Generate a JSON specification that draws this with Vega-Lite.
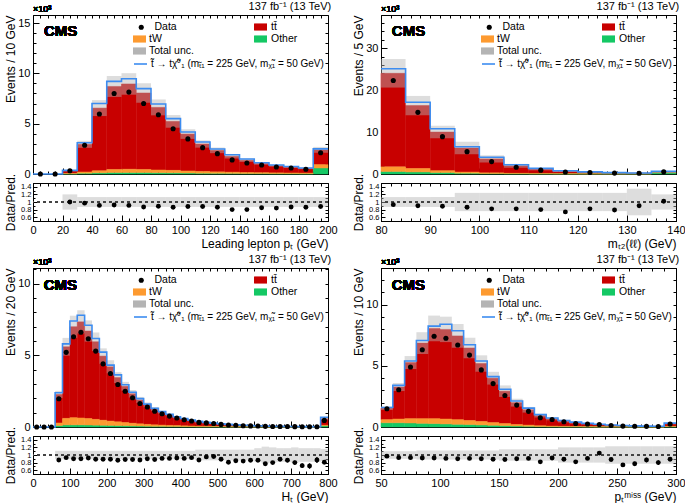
{
"$schema": "https://vega.github.io/schema/vega-lite/v6.json",
"padding": {"left": 3, "top": 0, "right": 6, "bottom": 0},
"config": {
  "font": "Liberation Sans",
  "view": {"stroke": "black", "strokeWidth": 1},
  "title": {"fontSize": 11, "fontWeight": "normal", "anchor": "end", "offset": -7, "color": "black"},
  "axis": {"grid": false, "tickSize": -6, "labelPadding": 9, "tickColor": "black", "domainColor": "black", "labelColor": "black", "titleColor": "black", "labelFontSize": 11, "titleFontSize": 12, "titleFontWeight": "normal", "labelFlush": false, "labelOverlap": false, "labelBound": false},
  "axisY": {"titleX": -23, "titleBaseline": "middle"},
  "axisX": {"titleAnchor": "end", "titlePadding": 3},
  "legend": {"labelFontSize": 10.5, "labelColor": "black", "padding": 0, "labelLimit": 0, "symbolOpacity": 1}
},
"datasets": {
  "pt": [
    {"lo":0,"hi":10,"c":5,"data":0},
    {"lo":10,"hi":20,"c":15,"data":0},
    {"lo":20,"hi":30,"c":25,"other":0.02,"tW":0.03,"ttbar":0.28,"data":0.33,"unc_lo":0.26,"unc_hi":0.40,"ratio":1.0,"band_lo":0.8,"band_hi":1.2},
    {"lo":30,"hi":40,"c":35,"other":0.08,"tW":0.12,"ttbar":2.75,"data":2.86,"unc_lo":2.60,"unc_hi":3.30,"ratio":0.97,"band_lo":0.87,"band_hi":1.13},
    {"lo":40,"hi":50,"c":45,"other":0.12,"tW":0.2,"ttbar":6.23,"data":5.96,"unc_lo":5.76,"unc_hi":7.34,"ratio":0.91,"band_lo":0.87,"band_hi":1.13},
    {"lo":50,"hi":60,"c":55,"other":0.15,"tW":0.3,"ttbar":8.25,"data":8.0,"unc_lo":7.66,"unc_hi":9.74,"ratio":0.92,"band_lo":0.87,"band_hi":1.13},
    {"lo":60,"hi":70,"c":65,"other":0.15,"tW":0.32,"ttbar":8.48,"data":8.14,"unc_lo":7.88,"unc_hi":10.02,"ratio":0.91,"band_lo":0.87,"band_hi":1.13},
    {"lo":70,"hi":80,"c":75,"other":0.15,"tW":0.3,"ttbar":7.6,"data":7.0,"unc_lo":7.08,"unc_hi":9.02,"ratio":0.87,"band_lo":0.87,"band_hi":1.13},
    {"lo":80,"hi":90,"c":85,"other":0.13,"tW":0.27,"ttbar":6.22,"data":5.89,"unc_lo":5.83,"unc_hi":7.41,"ratio":0.89,"band_lo":0.87,"band_hi":1.13},
    {"lo":90,"hi":100,"c":95,"other":0.12,"tW":0.24,"ttbar":4.87,"data":4.5,"unc_lo":4.60,"unc_hi":5.86,"ratio":0.86,"band_lo":0.87,"band_hi":1.13},
    {"lo":100,"hi":110,"c":105,"other":0.1,"tW":0.2,"ttbar":3.67,"data":3.49,"unc_lo":3.49,"unc_hi":4.45,"ratio":0.88,"band_lo":0.87,"band_hi":1.13},
    {"lo":110,"hi":120,"c":115,"other":0.08,"tW":0.17,"ttbar":2.73,"data":2.62,"unc_lo":2.62,"unc_hi":3.34,"ratio":0.88,"band_lo":0.87,"band_hi":1.13},
    {"lo":120,"hi":130,"c":125,"other":0.07,"tW":0.14,"ttbar":2.14,"data":2.02,"unc_lo":2.07,"unc_hi":2.63,"ratio":0.86,"band_lo":0.87,"band_hi":1.13},
    {"lo":130,"hi":140,"c":135,"other":0.06,"tW":0.12,"ttbar":1.57,"data":1.40,"unc_lo":1.54,"unc_hi":1.96,"ratio":0.80,"band_lo":0.87,"band_hi":1.13},
    {"lo":140,"hi":150,"c":145,"other":0.05,"tW":0.1,"ttbar":1.21,"data":1.09,"unc_lo":1.20,"unc_hi":1.52,"ratio":0.80,"band_lo":0.87,"band_hi":1.13},
    {"lo":150,"hi":160,"c":155,"other":0.05,"tW":0.08,"ttbar":0.92,"data":0.89,"unc_lo":0.92,"unc_hi":1.18,"ratio":0.85,"band_lo":0.87,"band_hi":1.13},
    {"lo":160,"hi":170,"c":165,"other":0.04,"tW":0.07,"ttbar":0.72,"data":0.70,"unc_lo":0.73,"unc_hi":0.93,"ratio":0.84,"band_lo":0.87,"band_hi":1.13},
    {"lo":170,"hi":180,"c":175,"other":0.04,"tW":0.06,"ttbar":0.58,"data":0.59,"unc_lo":0.60,"unc_hi":0.76,"ratio":0.87,"band_lo":0.87,"band_hi":1.13},
    {"lo":180,"hi":190,"c":185,"other":0.03,"tW":0.05,"ttbar":0.47,"data":0.47,"unc_lo":0.48,"unc_hi":0.62,"ratio":0.86,"band_lo":0.87,"band_hi":1.13},
    {"lo":190,"hi":200,"c":195,"other":0.6,"tW":0.33,"ttbar":1.47,"data":2.11,"unc_lo":2.11,"unc_hi":2.69,"ratio":0.88,"band_lo":0.87,"band_hi":1.13}
  ],
  "pt_sig": [
    {"x":0,"v":0},{"x":10,"v":0},{"x":20,"v":0.36},{"x":30,"v":3.1},{"x":40,"v":7.0},{"x":50,"v":9.2},{"x":60,"v":9.47},{"x":70,"v":8.48},{"x":80,"v":6.95},{"x":90,"v":5.5},{"x":100,"v":4.17},{"x":110,"v":3.18},{"x":120,"v":2.48},{"x":130,"v":1.92},{"x":140,"v":1.49},{"x":150,"v":1.12},{"x":160,"v":0.9},{"x":170,"v":0.74},{"x":180,"v":0.6},{"x":190,"v":2.5},{"x":200,"v":2.5}
  ],
  "mt2": [
    {"lo":80,"hi":85,"c":82.5,"other":0.6,"tW":1.1,"ttbar":22.3,"data":22.3,"unc_lo":20.6,"unc_hi":27.4,"ratio":0.93,"band_lo":0.87,"band_hi":1.13},
    {"lo":85,"hi":90,"c":87.5,"other":0.5,"tW":0.8,"ttbar":15.0,"data":14.7,"unc_lo":14.0,"unc_hi":18.6,"ratio":0.90,"band_lo":0.87,"band_hi":1.13},
    {"lo":90,"hi":95,"c":92.5,"other":0.35,"tW":0.45,"ttbar":9.2,"data":8.9,"unc_lo":8.5,"unc_hi":11.5,"ratio":0.89,"band_lo":0.87,"band_hi":1.13},
    {"lo":95,"hi":100,"c":97.5,"other":0.2,"tW":0.25,"ttbar":5.75,"data":5.33,"unc_lo":4.71,"unc_hi":7.69,"ratio":0.86,"band_lo":0.76,"band_hi":1.24},
    {"lo":100,"hi":105,"c":102.5,"other":0.12,"tW":0.15,"ttbar":3.33,"data":2.95,"unc_lo":2.74,"unc_hi":4.46,"ratio":0.82,"band_lo":0.76,"band_hi":1.24},
    {"lo":105,"hi":110,"c":107.5,"other":0.08,"tW":0.08,"ttbar":1.79,"data":1.6,"unc_lo":1.48,"unc_hi":2.42,"ratio":0.82,"band_lo":0.76,"band_hi":1.24},
    {"lo":110,"hi":115,"c":112.5,"other":0.05,"tW":0.05,"ttbar":1.05,"data":0.92,"unc_lo":0.87,"unc_hi":1.43,"ratio":0.80,"band_lo":0.76,"band_hi":1.24},
    {"lo":115,"hi":120,"c":117.5,"other":0.04,"tW":0.03,"ttbar":0.55,"data":0.46,"unc_lo":0.47,"unc_hi":0.77,"ratio":0.74,"band_lo":0.76,"band_hi":1.24},
    {"lo":120,"hi":125,"c":122.5,"other":0.03,"tW":0.02,"ttbar":0.37,"data":0.34,"unc_lo":0.32,"unc_hi":0.52,"ratio":0.82,"band_lo":0.76,"band_hi":1.24},
    {"lo":125,"hi":130,"c":127.5,"other":0.03,"tW":0.01,"ttbar":0.24,"data":0.22,"unc_lo":0.21,"unc_hi":0.35,"ratio":0.79,"band_lo":0.76,"band_hi":1.24},
    {"lo":130,"hi":135,"c":132.5,"other":0.04,"tW":0.01,"ttbar":0.15,"data":0.18,"unc_lo":0.13,"unc_hi":0.27,"ratio":0.90,"band_lo":0.65,"band_hi":1.35},
    {"lo":135,"hi":140,"c":137.5,"other":0.3,"tW":0.03,"ttbar":0.17,"data":0.51,"unc_lo":0.40,"unc_hi":0.60,"ratio":1.02,"band_lo":0.8,"band_hi":1.2}
  ],
  "mt2_sig": [
    {"x":80,"v":25.1},{"x":85,"v":17.1},{"x":90,"v":10.8},{"x":95,"v":6.5},{"x":100,"v":4.0},{"x":105,"v":2.2},{"x":110,"v":1.35},{"x":115,"v":0.78},{"x":120,"v":0.5},{"x":125,"v":0.33},{"x":130,"v":0.25},{"x":135,"v":0.62},{"x":140,"v":0.62}
  ],
  "ht": [
    {"lo":0,"hi":20,"c":10,"data":0},
    {"lo":20,"hi":40,"c":30,"data":0},
    {"lo":40,"hi":60,"c":50,"data":0},
    {"lo":60,"hi":80,"c":70,"other":0.1,"tW":0.18,"ttbar":1.99,"data":1.97,"unc_lo":2.02,"unc_hi":2.52,"ratio":0.87,"band_lo":0.89,"band_hi":1.11},
    {"lo":80,"hi":100,"c":90,"other":0.15,"tW":0.45,"ttbar":5.0,"data":5.21,"unc_lo":4.98,"unc_hi":6.22,"ratio":0.93,"band_lo":0.89,"band_hi":1.11},
    {"lo":100,"hi":120,"c":110,"other":0.15,"tW":0.5,"ttbar":6.35,"data":6.3,"unc_lo":6.23,"unc_hi":7.77,"ratio":0.90,"band_lo":0.89,"band_hi":1.11},
    {"lo":120,"hi":140,"c":130,"other":0.15,"tW":0.48,"ttbar":6.71,"data":6.61,"unc_lo":6.53,"unc_hi":8.15,"ratio":0.90,"band_lo":0.89,"band_hi":1.11},
    {"lo":140,"hi":160,"c":150,"other":0.14,"tW":0.45,"ttbar":6.11,"data":6.16,"unc_lo":5.96,"unc_hi":7.44,"ratio":0.92,"band_lo":0.89,"band_hi":1.11},
    {"lo":160,"hi":180,"c":170,"other":0.13,"tW":0.4,"ttbar":5.42,"data":5.3,"unc_lo":5.30,"unc_hi":6.60,"ratio":0.89,"band_lo":0.89,"band_hi":1.11},
    {"lo":180,"hi":200,"c":190,"other":0.12,"tW":0.35,"ttbar":4.48,"data":4.41,"unc_lo":4.41,"unc_hi":5.49,"ratio":0.89,"band_lo":0.89,"band_hi":1.11},
    {"lo":200,"hi":220,"c":210,"other":0.11,"tW":0.3,"ttbar":3.79,"data":3.74,"unc_lo":3.74,"unc_hi":4.66,"ratio":0.89,"band_lo":0.89,"band_hi":1.11},
    {"lo":220,"hi":240,"c":230,"other":0.1,"tW":0.26,"ttbar":3.09,"data":2.97,"unc_lo":3.07,"unc_hi":3.83,"ratio":0.86,"band_lo":0.89,"band_hi":1.11},
    {"lo":240,"hi":260,"c":250,"other":0.09,"tW":0.22,"ttbar":2.53,"data":2.5,"unc_lo":2.53,"unc_hi":3.15,"ratio":0.88,"band_lo":0.89,"band_hi":1.11},
    {"lo":260,"hi":280,"c":270,"other":0.08,"tW":0.18,"ttbar":2.06,"data":2.04,"unc_lo":2.06,"unc_hi":2.58,"ratio":0.88,"band_lo":0.89,"band_hi":1.11},
    {"lo":280,"hi":300,"c":290,"other":0.07,"tW":0.15,"ttbar":1.67,"data":1.64,"unc_lo":1.68,"unc_hi":2.10,"ratio":0.87,"band_lo":0.89,"band_hi":1.11},
    {"lo":300,"hi":320,"c":310,"other":0.06,"tW":0.12,"ttbar":1.37,"data":1.40,"unc_lo":1.38,"unc_hi":1.72,"ratio":0.90,"band_lo":0.89,"band_hi":1.11},
    {"lo":320,"hi":340,"c":330,"other":0.05,"tW":0.1,"ttbar":1.1,"data":1.10,"unc_lo":1.11,"unc_hi":1.39,"ratio":0.88,"band_lo":0.89,"band_hi":1.11},
    {"lo":340,"hi":360,"c":350,"other":0.05,"tW":0.08,"ttbar":0.89,"data":0.93,"unc_lo":0.91,"unc_hi":1.13,"ratio":0.91,"band_lo":0.89,"band_hi":1.11},
    {"lo":360,"hi":380,"c":370,"other":0.04,"tW":0.07,"ttbar":0.73,"data":0.76,"unc_lo":0.75,"unc_hi":0.93,"ratio":0.91,"band_lo":0.89,"band_hi":1.11},
    {"lo":380,"hi":400,"c":390,"other":0.04,"tW":0.06,"ttbar":0.58,"data":0.63,"unc_lo":0.61,"unc_hi":0.75,"ratio":0.92,"band_lo":0.89,"band_hi":1.11},
    {"lo":400,"hi":420,"c":410,"other":0.03,"tW":0.05,"ttbar":0.48,"data":0.51,"unc_lo":0.50,"unc_hi":0.62,"ratio":0.91,"band_lo":0.89,"band_hi":1.11},
    {"lo":420,"hi":440,"c":430,"other":0.03,"tW":0.04,"ttbar":0.38,"data":0.42,"unc_lo":0.40,"unc_hi":0.50,"ratio":0.93,"band_lo":0.89,"band_hi":1.11},
    {"lo":440,"hi":460,"c":450,"other":0.02,"tW":0.03,"ttbar":0.32,"data":0.32,"unc_lo":0.32,"unc_hi":0.42,"ratio":0.87,"band_lo":0.86,"band_hi":1.14},
    {"lo":460,"hi":480,"c":470,"other":0.02,"tW":0.03,"ttbar":0.25,"data":0.285,"unc_lo":0.26,"unc_hi":0.34,"ratio":0.95,"band_lo":0.86,"band_hi":1.14},
    {"lo":480,"hi":500,"c":490,"other":0.02,"tW":0.02,"ttbar":0.21,"data":0.24,"unc_lo":0.215,"unc_hi":0.285,"ratio":0.96,"band_lo":0.86,"band_hi":1.14},
    {"lo":500,"hi":520,"c":510,"other":0.015,"tW":0.02,"ttbar":0.165,"data":0.18,"unc_lo":0.172,"unc_hi":0.228,"ratio":0.89,"ratio_err":0.02,"band_lo":0.86,"band_hi":1.14},
    {"lo":520,"hi":540,"c":530,"other":0.01,"tW":0.015,"ttbar":0.145,"data":0.138,"unc_lo":0.146,"unc_hi":0.194,"ratio":0.81,"ratio_err":0.025,"band_lo":0.86,"band_hi":1.14},
    {"lo":540,"hi":560,"c":550,"other":0.01,"tW":0.01,"ttbar":0.12,"data":0.119,"unc_lo":0.12,"unc_hi":0.16,"ratio":0.85,"ratio_err":0.03,"band_lo":0.86,"band_hi":1.14},
    {"lo":560,"hi":580,"c":570,"other":0.01,"tW":0.01,"ttbar":0.09,"data":0.092,"unc_lo":0.095,"unc_hi":0.125,"ratio":0.84,"ratio_err":0.03,"band_lo":0.86,"band_hi":1.14},
    {"lo":580,"hi":600,"c":590,"other":0.008,"tW":0.008,"ttbar":0.074,"data":0.077,"unc_lo":0.077,"unc_hi":0.103,"ratio":0.86,"ratio_err":0.035,"band_lo":0.86,"band_hi":1.14},
    {"lo":600,"hi":620,"c":610,"other":0.006,"tW":0.006,"ttbar":0.063,"data":0.065,"unc_lo":0.062,"unc_hi":0.089,"ratio":0.86,"ratio_err":0.035,"band_lo":0.82,"band_hi":1.18},
    {"lo":620,"hi":640,"c":630,"other":0.005,"tW":0.005,"ttbar":0.05,"data":0.046,"unc_lo":0.047,"unc_hi":0.073,"ratio":0.77,"ratio_err":0.045,"band_lo":0.78,"band_hi":1.22},
    {"lo":640,"hi":660,"c":650,"other":0.004,"tW":0.004,"ttbar":0.042,"data":0.04,"unc_lo":0.04,"unc_hi":0.06,"ratio":0.80,"ratio_err":0.045,"band_lo":0.8,"band_hi":1.2},
    {"lo":660,"hi":680,"c":670,"other":0.004,"tW":0.003,"ttbar":0.035,"data":0.037,"unc_lo":0.034,"unc_hi":0.05,"ratio":0.89,"ratio_err":0.05,"band_lo":0.82,"band_hi":1.18},
    {"lo":680,"hi":700,"c":690,"other":0.003,"tW":0.003,"ttbar":0.029,"data":0.03,"unc_lo":0.029,"unc_hi":0.041,"ratio":0.86,"ratio_err":0.05,"band_lo":0.82,"band_hi":1.18},
    {"lo":700,"hi":720,"c":710,"other":0.003,"tW":0.002,"ttbar":0.025,"data":0.024,"unc_lo":0.024,"unc_hi":0.036,"ratio":0.80,"ratio_err":0.055,"band_lo":0.8,"band_hi":1.2},
    {"lo":720,"hi":740,"c":730,"other":0.002,"tW":0.002,"ttbar":0.021,"data":0.018,"unc_lo":0.02,"unc_hi":0.03,"ratio":0.72,"ratio_err":0.06,"band_lo":0.82,"band_hi":1.18},
    {"lo":740,"hi":760,"c":750,"other":0.002,"tW":0.002,"ttbar":0.016,"data":0.014,"unc_lo":0.016,"unc_hi":0.024,"ratio":0.71,"ratio_err":0.07,"band_lo":0.82,"band_hi":1.18},
    {"lo":760,"hi":780,"c":770,"other":0.002,"tW":0.001,"ttbar":0.015,"data":0.016,"unc_lo":0.015,"unc_hi":0.021,"ratio":0.87,"ratio_err":0.08,"band_lo":0.82,"band_hi":1.18},
    {"lo":780,"hi":800,"c":790,"other":0.08,"tW":0.04,"ttbar":0.45,"data":0.46,"unc_lo":0.48,"unc_hi":0.66,"ratio":0.81,"ratio_err":0.035,"band_lo":0.84,"band_hi":1.16}
  ],
  "ht_sig": [
    {"x":0,"v":0},{"x":20,"v":0},{"x":40,"v":0},{"x":60,"v":2.39},{"x":80,"v":5.8},{"x":100,"v":7.4},{"x":120,"v":7.8},{"x":140,"v":7.1},{"x":160,"v":6.18},{"x":180,"v":5.23},{"x":200,"v":4.32},{"x":220,"v":3.64},{"x":240,"v":2.95},{"x":260,"v":2.43},{"x":280,"v":1.98},{"x":300,"v":1.6},{"x":320,"v":1.3},{"x":340,"v":1.07},{"x":360,"v":0.89},{"x":380,"v":0.72},{"x":400,"v":0.59},{"x":420,"v":0.48},{"x":440,"v":0.39},{"x":460,"v":0.32},{"x":480,"v":0.27},{"x":500,"v":0.22},{"x":520,"v":0.18},{"x":540,"v":0.15},{"x":560,"v":0.12},{"x":580,"v":0.1},{"x":600,"v":0.082},{"x":620,"v":0.066},{"x":640,"v":0.055},{"x":660,"v":0.046},{"x":680,"v":0.038},{"x":700,"v":0.033},{"x":720,"v":0.028},{"x":740,"v":0.023},{"x":760,"v":0.02},{"x":780,"v":0.68},{"x":800,"v":0.68}
  ],
  "met": [
    {"lo":50,"hi":60,"c":55,"other":0.35,"tW":0.25,"ttbar":0.94,"data":1.49,"unc_lo":1.39,"unc_hi":1.69,"ratio":0.97,"band_lo":0.9,"band_hi":1.1},
    {"lo":60,"hi":70,"c":65,"other":0.35,"tW":0.3,"ttbar":2.62,"data":3.04,"unc_lo":2.94,"unc_hi":3.60,"ratio":0.93,"band_lo":0.9,"band_hi":1.1},
    {"lo":70,"hi":80,"c":75,"other":0.33,"tW":0.35,"ttbar":4.59,"data":4.9,"unc_lo":4.74,"unc_hi":5.80,"ratio":0.93,"band_lo":0.9,"band_hi":1.1},
    {"lo":80,"hi":90,"c":85,"other":0.3,"tW":0.38,"ttbar":6.18,"data":6.31,"unc_lo":5.97,"unc_hi":7.75,"ratio":0.92,"band_lo":0.88,"band_hi":1.12},
    {"lo":90,"hi":100,"c":95,"other":0.28,"tW":0.4,"ttbar":7.38,"data":7.42,"unc_lo":7.01,"unc_hi":9.11,"ratio":0.92,"band_lo":0.88,"band_hi":1.12},
    {"lo":100,"hi":110,"c":105,"other":0.25,"tW":0.4,"ttbar":7.33,"data":7.26,"unc_lo":6.94,"unc_hi":9.02,"ratio":0.91,"band_lo":0.88,"band_hi":1.12},
    {"lo":110,"hi":120,"c":115,"other":0.22,"tW":0.38,"ttbar":6.85,"data":6.71,"unc_lo":6.48,"unc_hi":8.42,"ratio":0.90,"band_lo":0.88,"band_hi":1.12},
    {"lo":120,"hi":130,"c":125,"other":0.2,"tW":0.33,"ttbar":5.93,"data":5.88,"unc_lo":5.62,"unc_hi":7.30,"ratio":0.91,"band_lo":0.88,"band_hi":1.12},
    {"lo":130,"hi":140,"c":135,"other":0.17,"tW":0.28,"ttbar":4.74,"data":4.67,"unc_lo":4.52,"unc_hi":5.86,"ratio":0.90,"band_lo":0.88,"band_hi":1.12},
    {"lo":140,"hi":150,"c":145,"other":0.14,"tW":0.22,"ttbar":3.63,"data":3.55,"unc_lo":3.47,"unc_hi":4.51,"ratio":0.89,"band_lo":0.88,"band_hi":1.12},
    {"lo":150,"hi":160,"c":155,"other":0.11,"tW":0.17,"ttbar":2.65,"data":2.58,"unc_lo":2.46,"unc_hi":3.40,"ratio":0.88,"band_lo":0.85,"band_hi":1.15},
    {"lo":160,"hi":170,"c":165,"other":0.08,"tW":0.12,"ttbar":1.79,"data":1.79,"unc_lo":1.67,"unc_hi":2.31,"ratio":0.90,"band_lo":0.85,"band_hi":1.15},
    {"lo":170,"hi":180,"c":175,"other":0.06,"tW":0.09,"ttbar":1.26,"data":1.28,"unc_lo":1.18,"unc_hi":1.64,"ratio":0.91,"band_lo":0.85,"band_hi":1.15},
    {"lo":180,"hi":190,"c":185,"other":0.04,"tW":0.06,"ttbar":0.83,"data":0.76,"unc_lo":0.78,"unc_hi":1.08,"ratio":0.82,"band_lo":0.85,"band_hi":1.15},
    {"lo":190,"hi":200,"c":195,"other":0.03,"tW":0.04,"ttbar":0.59,"data":0.61,"unc_lo":0.55,"unc_hi":0.77,"ratio":0.92,"band_lo":0.85,"band_hi":1.15},
    {"lo":200,"hi":210,"c":205,"other":0.02,"tW":0.03,"ttbar":0.43,"data":0.43,"unc_lo":0.37,"unc_hi":0.59,"ratio":0.89,"ratio_err":0.025,"band_lo":0.8,"band_hi":1.2},
    {"lo":210,"hi":220,"c":215,"other":0.02,"tW":0.02,"ttbar":0.31,"data":0.29,"unc_lo":0.27,"unc_hi":0.43,"ratio":0.82,"ratio_err":0.03,"band_lo":0.8,"band_hi":1.2},
    {"lo":220,"hi":230,"c":225,"other":0.015,"tW":0.015,"ttbar":0.24,"data":0.25,"unc_lo":0.21,"unc_hi":0.33,"ratio":0.91,"ratio_err":0.035,"band_lo":0.8,"band_hi":1.2},
    {"lo":230,"hi":240,"c":235,"other":0.01,"tW":0.01,"ttbar":0.17,"data":0.20,"unc_lo":0.15,"unc_hi":0.23,"ratio":1.05,"ratio_err":0.04,"band_lo":0.8,"band_hi":1.2},
    {"lo":240,"hi":250,"c":245,"other":0.01,"tW":0.01,"ttbar":0.12,"data":0.123,"unc_lo":0.11,"unc_hi":0.17,"ratio":0.88,"ratio_err":0.045,"band_lo":0.77,"band_hi":1.23},
    {"lo":250,"hi":260,"c":255,"other":0.008,"tW":0.006,"ttbar":0.086,"data":0.074,"unc_lo":0.078,"unc_hi":0.122,"ratio":0.74,"ratio_err":0.05,"band_lo":0.77,"band_hi":1.23},
    {"lo":260,"hi":270,"c":265,"other":0.006,"tW":0.005,"ttbar":0.069,"data":0.062,"unc_lo":0.062,"unc_hi":0.098,"ratio":0.77,"ratio_err":0.055,"band_lo":0.77,"band_hi":1.23},
    {"lo":270,"hi":280,"c":275,"other":0.005,"tW":0.004,"ttbar":0.051,"data":0.052,"unc_lo":0.047,"unc_hi":0.073,"ratio":0.87,"ratio_err":0.06,"band_lo":0.77,"band_hi":1.23},
    {"lo":280,"hi":290,"c":285,"other":0.004,"tW":0.003,"ttbar":0.043,"data":0.04,"unc_lo":0.039,"unc_hi":0.061,"ratio":0.80,"ratio_err":0.065,"band_lo":0.77,"band_hi":1.23},
    {"lo":290,"hi":300,"c":295,"other":0.03,"tW":0.02,"ttbar":0.22,"data":0.24,"unc_lo":0.21,"unc_hi":0.33,"ratio":0.89,"ratio_err":0.03,"band_lo":0.77,"band_hi":1.23}
  ],
  "met_sig": [
    {"x":50,"v":1.6},{"x":60,"v":3.4},{"x":70,"v":5.4},{"x":80,"v":7.07},{"x":90,"v":8.25},{"x":100,"v":8.4},{"x":110,"v":7.87},{"x":120,"v":6.73},{"x":130,"v":5.4},{"x":140,"v":4.12},{"x":150,"v":3.09},{"x":160,"v":2.13},{"x":170,"v":1.54},{"x":180,"v":1.01},{"x":190,"v":0.74},{"x":200,"v":0.53},{"x":210,"v":0.4},{"x":220,"v":0.3},{"x":230,"v":0.22},{"x":240,"v":0.16},{"x":250,"v":0.12},{"x":260,"v":0.09},{"x":270,"v":0.07},{"x":280,"v":0.06},{"x":290,"v":0.32},{"x":300,"v":0.32}
  ],
  "empty": []
},
"columns": 2,
"spacing": {"row": 9, "column": 53},
"bounds": "flush",
"resolve": {"scale": {"color":"independent","fill":"independent","stroke":"independent","shape":"independent"}, "legend": {"color":"independent","fill":"independent","stroke":"independent","shape":"independent"}},
"concat": [
     {
      "width": 295, "height": 159,
      "title": {"text": "137 fb⁻¹ (13 TeV)"},
      "data": {"name": "pt"},
      "resolve": {"axis": {"x": "independent", "y": "independent"}},
      "layer": [
       {
        "transform": [{"filter": "datum.ttbar != null"}, {"fold": ["other","tW","ttbar"], "as": ["proc","n"]}, {"stack": "n", "groupby": ["lo"], "sort": [{"field": "proc", "order": "ascending"}], "as": ["s0","s1"]}],
        "layer": [
         {"transform": [{"filter": "datum.proc === 'ttbar'"}], "mark": {"type": "rect", "stroke": "#c80000", "strokeWidth": 0.5},
          "encoding": {
           "x": {"field": "lo", "type": "quantitative", "scale": {"domain": [0,200], "nice": false, "zero": false}, "axis": {"orient": "bottom", "values": [0,20,40,60,80,100,120,140,160,180,200], "tickCount": 1000, "labels": false, "title": null}},
           "x2": {"field": "hi"},
           "y": {"field": "s1", "type": "quantitative", "scale": {"domain": [0,15.8], "nice": false, "zero": false}, "axis": {"orient": "left", "values": [0,5,10,15], "tickCount": 1000, "format": "d", "title": "Events / 10 GeV", "titleAnchor": "end"}},
           "y2": {"field": "s0"},
           "fill": {"datum": "tt̄", "type": "nominal", "scale": {"domain": ["tt̄","Other"], "range": ["#c80000","#14c864"]}, "legend": {"title": null, "orient": "none", "legendX": 221, "legendY": 5.5, "symbolType": "M-1,-0.55H1V0.55H-1Z", "symbolSize": 169, "symbolStrokeWidth": 0, "rowPadding": -1, "labelOffset": 4}}
          }},
         {"transform": [{"filter": "datum.proc === 'other'"}], "mark": {"type": "rect", "stroke": "#14c864", "strokeWidth": 0.5},
          "encoding": {"x": {"field": "lo", "type": "quantitative"}, "x2": {"field": "hi"}, "y": {"field": "s1", "type": "quantitative"}, "y2": {"field": "s0"}, "fill": {"datum": "Other", "type": "nominal"}}},
         {"transform": [{"filter": "datum.proc === 'tW'"}], "mark": {"type": "rect", "stroke": "#fd9a30", "strokeWidth": 0.5},
          "encoding": {"x": {"field": "lo", "type": "quantitative"}, "x2": {"field": "hi"}, "y": {"field": "s1", "type": "quantitative"}, "y2": {"field": "s0"},
           "color": {"datum": "tW", "type": "nominal", "scale": {"domain": ["tW","Total unc."], "range": ["#fd9a30","#b4b4b4"]}, "legend": {"title": null, "orient": "none", "legendX": 100, "legendY": 17.5, "symbolType": "M-1,-0.55H1V0.55H-1Z", "symbolSize": 169, "symbolStrokeWidth": 0, "rowPadding": -1, "labelOffset": 3}}}}
        ]
       },
       {"mark": {"type": "rect", "opacity": 0.45},
        "encoding": {"x": {"field": "lo", "type": "quantitative", "axis": null}, "x2": {"field": "hi"}, "y": {"field": "unc_lo", "type": "quantitative", "axis": null}, "y2": {"field": "unc_hi"}, "color": {"datum": "Total unc.", "type": "nominal"}}},
       {"data": {"name": "pt_sig"}, "mark": {"type": "line", "interpolate": "step-after", "strokeWidth": 1.6},
        "encoding": {"x": {"field": "x", "type": "quantitative", "axis": null}, "y": {"field": "v", "type": "quantitative", "axis": null},
         "stroke": {"datum": "t̃ → tχ̃⁰₁ (mₜ̃₁ = 225 GeV, mᵪ̃₁ = 50 GeV)", "type": "nominal", "scale": {"range": ["#3c8cf0"]}, "legend": {"title": null, "orient": "none", "legendX": 100, "legendY": 41.5, "symbolType": "stroke", "symbolSize": 169, "symbolStrokeWidth": 1.6, "labelOffset": 3, "labelFontSize": 10}}}},
       {"mark": {"type": "point", "filled": true, "size": 26, "color": "black", "opacity": 1},
        "encoding": {"x": {"field": "c", "type": "quantitative", "axis": null}, "y": {"field": "data", "type": "quantitative", "axis": null},
         "shape": {"datum": "Data", "type": "nominal", "scale": {"domain": ["Data"], "range": ["circle"]}, "legend": {"title": null, "orient": "none", "legendX": 103, "legendY": 7, "symbolFillColor": "black", "symbolStrokeColor": "black", "symbolSize": 26, "labelOffset": 8}}}},
       {"mark": {"type": "text", "text": "CMS", "fontSize": 15, "fontWeight": "bold", "align": "left", "baseline": "alphabetic"},
        "encoding": {"x": {"datum": 7.46, "type": "quantitative", "axis": {"orient": "bottom", "values": [0,5,10,15,20,25,30,35,40,45,50,55,60,65,70,75,80,85,90,95,100,105,110,115,120,125,130,135,140,145,150,155,160,165,170,175,180,185,190,195,200], "tickCount": 1000, "labels": false, "title": null, "domain": false, "tickSize": -3}},
                     "y": {"datum": 13.71, "type": "quantitative", "axis": {"orient": "left", "values": [0,1,2,3,4,5,6,7,8,9,10,11,12,13,14,15], "tickCount": 1000, "labels": false, "title": null, "domain": false, "tickSize": -3}}}},
       {"mark": {"type": "text", "text": "×10³", "fontSize": 9, "align": "left", "baseline": "bottom", "dy": -1},
        "encoding": {"x": {"datum": 0, "type": "quantitative", "axis": {"orient": "top", "values": [0,5,10,15,20,25,30,35,40,45,50,55,60,65,70,75,80,85,90,95,100,105,110,115,120,125,130,135,140,145,150,155,160,165,170,175,180,185,190,195,200], "tickCount": 1000, "labels": false, "title": null, "domain": false, "tickSize": -3}},
                     "y": {"datum": 15.8, "type": "quantitative", "axis": {"orient": "right", "values": [0,1,2,3,4,5,6,7,8,9,10,11,12,13,14,15], "tickCount": 1000, "labels": false, "title": null, "domain": false, "tickSize": -3}}}}
      ]
     },
     {
      "width": 295, "height": 159,
      "title": {"text": "137 fb⁻¹ (13 TeV)"},
      "data": {"name": "mt2"},
      "resolve": {"axis": {"x": "independent", "y": "independent"}},
      "layer": [
       {
        "transform": [{"filter": "datum.ttbar != null"}, {"fold": ["other","tW","ttbar"], "as": ["proc","n"]}, {"stack": "n", "groupby": ["lo"], "sort": [{"field": "proc", "order": "ascending"}], "as": ["s0","s1"]}],
        "layer": [
         {"transform": [{"filter": "datum.proc === 'ttbar'"}], "mark": {"type": "rect", "stroke": "#c80000", "strokeWidth": 0.5},
          "encoding": {
           "x": {"field": "lo", "type": "quantitative", "scale": {"domain": [80,140], "nice": false, "zero": false}, "axis": {"orient": "bottom", "values": [80,90,100,110,120,130,140], "tickCount": 1000, "labels": false, "title": null}},
           "x2": {"field": "hi"},
           "y": {"field": "s1", "type": "quantitative", "scale": {"domain": [0,37.9], "nice": false, "zero": false}, "axis": {"orient": "left", "values": [0,10,20,30], "tickCount": 1000, "format": "d", "title": "Events / 5 GeV", "titleAnchor": "end"}},
           "y2": {"field": "s0"},
           "fill": {"datum": "tt̄", "type": "nominal", "scale": {"domain": ["tt̄","Other"], "range": ["#c80000","#14c864"]}, "legend": {"title": null, "orient": "none", "legendX": 221, "legendY": 5.5, "symbolType": "M-1,-0.55H1V0.55H-1Z", "symbolSize": 169, "symbolStrokeWidth": 0, "rowPadding": -1, "labelOffset": 4}}
          }},
         {"transform": [{"filter": "datum.proc === 'other'"}], "mark": {"type": "rect", "stroke": "#14c864", "strokeWidth": 0.5},
          "encoding": {"x": {"field": "lo", "type": "quantitative"}, "x2": {"field": "hi"}, "y": {"field": "s1", "type": "quantitative"}, "y2": {"field": "s0"}, "fill": {"datum": "Other", "type": "nominal"}}},
         {"transform": [{"filter": "datum.proc === 'tW'"}], "mark": {"type": "rect", "stroke": "#fd9a30", "strokeWidth": 0.5},
          "encoding": {"x": {"field": "lo", "type": "quantitative"}, "x2": {"field": "hi"}, "y": {"field": "s1", "type": "quantitative"}, "y2": {"field": "s0"},
           "color": {"datum": "tW", "type": "nominal", "scale": {"domain": ["tW","Total unc."], "range": ["#fd9a30","#b4b4b4"]}, "legend": {"title": null, "orient": "none", "legendX": 100, "legendY": 17.5, "symbolType": "M-1,-0.55H1V0.55H-1Z", "symbolSize": 169, "symbolStrokeWidth": 0, "rowPadding": -1, "labelOffset": 3}}}}
        ]
       },
       {"mark": {"type": "rect", "opacity": 0.45},
        "encoding": {"x": {"field": "lo", "type": "quantitative", "axis": null}, "x2": {"field": "hi"}, "y": {"field": "unc_lo", "type": "quantitative", "axis": null}, "y2": {"field": "unc_hi"}, "color": {"datum": "Total unc.", "type": "nominal"}}},
       {"data": {"name": "mt2_sig"}, "mark": {"type": "line", "interpolate": "step-after", "strokeWidth": 1.6},
        "encoding": {"x": {"field": "x", "type": "quantitative", "axis": null}, "y": {"field": "v", "type": "quantitative", "axis": null},
         "stroke": {"datum": "t̃ → tχ̃⁰₁ (mₜ̃₁ = 225 GeV, mᵪ̃₁ = 50 GeV)", "type": "nominal", "scale": {"range": ["#3c8cf0"]}, "legend": {"title": null, "orient": "none", "legendX": 100, "legendY": 41.5, "symbolType": "stroke", "symbolSize": 169, "symbolStrokeWidth": 1.6, "labelOffset": 3, "labelFontSize": 10}}}},
       {"mark": {"type": "point", "filled": true, "size": 26, "color": "black", "opacity": 1},
        "encoding": {"x": {"field": "c", "type": "quantitative", "axis": null}, "y": {"field": "data", "type": "quantitative", "axis": null},
         "shape": {"datum": "Data", "type": "nominal", "scale": {"domain": ["Data"], "range": ["circle"]}, "legend": {"title": null, "orient": "none", "legendX": 103, "legendY": 7, "symbolFillColor": "black", "symbolStrokeColor": "black", "symbolSize": 26, "labelOffset": 8}}}},
       {"mark": {"type": "text", "text": "CMS", "fontSize": 15, "fontWeight": "bold", "align": "left", "baseline": "alphabetic"},
        "encoding": {"x": {"datum": 82.2, "type": "quantitative", "axis": {"orient": "bottom", "values": [80,82,84,86,88,90,92,94,96,98,100,102,104,106,108,110,112,114,116,118,120,122,124,126,128,130,132,134,136,138,140], "tickCount": 1000, "labels": false, "title": null, "domain": false, "tickSize": -3}},
                     "y": {"datum": 32.9, "type": "quantitative", "axis": {"orient": "left", "values": [0,2,4,6,8,10,12,14,16,18,20,22,24,26,28,30,32,34,36], "tickCount": 1000, "labels": false, "title": null, "domain": false, "tickSize": -3}}}},
       {"mark": {"type": "text", "text": "×10³", "fontSize": 9, "align": "left", "baseline": "bottom", "dy": -1},
        "encoding": {"x": {"datum": 80, "type": "quantitative", "axis": {"orient": "top", "values": [80,82,84,86,88,90,92,94,96,98,100,102,104,106,108,110,112,114,116,118,120,122,124,126,128,130,132,134,136,138,140], "tickCount": 1000, "labels": false, "title": null, "domain": false, "tickSize": -3}},
                     "y": {"datum": 37.9, "type": "quantitative", "axis": {"orient": "right", "values": [0,2,4,6,8,10,12,14,16,18,20,22,24,26,28,30,32,34,36], "tickCount": 1000, "labels": false, "title": null, "domain": false, "tickSize": -3}}}}
      ]
     },
     {
      "width": 295, "height": 38,
      "data": {"name": "pt"},
      "transform": [{"filter": "datum.ratio != null"}],
      "resolve": {"axis": {"x": "independent", "y": "independent"}},
      "layer": [
       {"mark": {"type": "rect", "fill": "#b4b4b4", "opacity": 0.45},
        "encoding": {"x": {"field": "lo", "type": "quantitative", "scale": {"domain": [0,200], "nice": false, "zero": false}, "axis": {"orient": "bottom", "values": [0,20,40,60,80,100,120,140,160,180,200], "tickCount": 1000, "format": "d", "title": "Leading lepton pₜ (GeV)"}},
         "x2": {"field": "hi"},
         "y": {"field": "band_lo", "type": "quantitative", "scale": {"domain": [0.5,1.5], "nice": false, "zero": false}, "axis": {"orient": "left", "values": [0.6,0.8,1,1.2,1.4], "tickCount": 1000, "format": "~g", "title": "Data/Pred.", "labelFontSize": 7.5, "tickSize": -4, "labelPadding": 6}},
         "y2": {"field": "band_hi"}}},
       {"mark": {"type": "rule", "strokeDash": [3,3], "color": "#444444", "strokeWidth": 0.8}, "encoding": {"y": {"datum": 1, "type": "quantitative", "axis": {"orient": "right", "values": [0.5,0.6,0.7,0.8,0.9,1,1.1,1.2,1.3,1.4,1.5], "tickCount": 1000, "labels": false, "title": null, "domain": false, "tickSize": -3}}}},
       {"mark": {"type": "circle", "size": 24, "color": "black", "opacity": 1},
        "encoding": {"x": {"field": "c", "type": "quantitative", "axis": {"orient": "bottom", "values": [0,5,10,15,20,25,30,35,40,45,50,55,60,65,70,75,80,85,90,95,100,105,110,115,120,125,130,135,140,145,150,155,160,165,170,175,180,185,190,195,200], "tickCount": 1000, "labels": false, "title": null, "domain": false, "tickSize": -3}},
                     "y": {"field": "ratio", "type": "quantitative", "axis": {"orient": "left", "values": [0.5,0.6,0.7,0.8,0.9,1,1.1,1.2,1.3,1.4,1.5], "tickCount": 1000, "labels": false, "title": null, "domain": false, "tickSize": -2}}}},
       {"mark": {"type": "text", "text": ""},
        "encoding": {"x": {"datum": 0, "type": "quantitative", "axis": {"orient": "top", "values": [0,5,10,15,20,25,30,35,40,45,50,55,60,65,70,75,80,85,90,95,100,105,110,115,120,125,130,135,140,145,150,155,160,165,170,175,180,185,190,195,200], "tickCount": 1000, "labels": false, "title": null, "domain": false, "tickSize": -3}}, "y": {"datum": 1, "type": "quantitative", "axis": null}}}
      ]
     },
     {
      "width": 295, "height": 38,
      "data": {"name": "mt2"},
      "transform": [{"filter": "datum.ratio != null"}],
      "resolve": {"axis": {"x": "independent", "y": "independent"}},
      "layer": [
       {"mark": {"type": "rect", "fill": "#b4b4b4", "opacity": 0.45},
        "encoding": {"x": {"field": "lo", "type": "quantitative", "scale": {"domain": [80,140], "nice": false, "zero": false}, "axis": {"orient": "bottom", "values": [80,90,100,110,120,130,140], "tickCount": 1000, "format": "d", "title": "mₜ₂(ℓℓ) (GeV)"}},
         "x2": {"field": "hi"},
         "y": {"field": "band_lo", "type": "quantitative", "scale": {"domain": [0.5,1.5], "nice": false, "zero": false}, "axis": {"orient": "left", "values": [0.6,0.8,1,1.2,1.4], "tickCount": 1000, "format": "~g", "title": "Data/Pred.", "labelFontSize": 7.5, "tickSize": -4, "labelPadding": 6}},
         "y2": {"field": "band_hi"}}},
       {"mark": {"type": "rule", "strokeDash": [3,3], "color": "#444444", "strokeWidth": 0.8}, "encoding": {"y": {"datum": 1, "type": "quantitative", "axis": {"orient": "right", "values": [0.5,0.6,0.7,0.8,0.9,1,1.1,1.2,1.3,1.4,1.5], "tickCount": 1000, "labels": false, "title": null, "domain": false, "tickSize": -3}}}},
       {"mark": {"type": "circle", "size": 24, "color": "black", "opacity": 1},
        "encoding": {"x": {"field": "c", "type": "quantitative", "axis": {"orient": "bottom", "values": [80,82,84,86,88,90,92,94,96,98,100,102,104,106,108,110,112,114,116,118,120,122,124,126,128,130,132,134,136,138,140], "tickCount": 1000, "labels": false, "title": null, "domain": false, "tickSize": -3}},
                     "y": {"field": "ratio", "type": "quantitative", "axis": {"orient": "left", "values": [0.5,0.6,0.7,0.8,0.9,1,1.1,1.2,1.3,1.4,1.5], "tickCount": 1000, "labels": false, "title": null, "domain": false, "tickSize": -2}}}},
       {"mark": {"type": "text", "text": ""},
        "encoding": {"x": {"datum": 80, "type": "quantitative", "axis": {"orient": "top", "values": [80,82,84,86,88,90,92,94,96,98,100,102,104,106,108,110,112,114,116,118,120,122,124,126,128,130,132,134,136,138,140], "tickCount": 1000, "labels": false, "title": null, "domain": false, "tickSize": -3}}, "y": {"datum": 1, "type": "quantitative", "axis": null}}}
      ]
     },
     {"width": 295, "height": 29, "view": {"stroke": null}, "data": {"name": "empty"}, "mark": "point", "encoding": {}},
     {"width": 295, "height": 29, "view": {"stroke": null}, "data": {"name": "empty"}, "mark": "point", "encoding": {}},
     {
      "width": 295, "height": 159,
      "title": {"text": "137 fb⁻¹ (13 TeV)"},
      "data": {"name": "ht"},
      "resolve": {"axis": {"x": "independent", "y": "independent"}},
      "layer": [
       {
        "transform": [{"filter": "datum.ttbar != null"}, {"fold": ["other","tW","ttbar"], "as": ["proc","n"]}, {"stack": "n", "groupby": ["lo"], "sort": [{"field": "proc", "order": "ascending"}], "as": ["s0","s1"]}],
        "layer": [
         {"transform": [{"filter": "datum.proc === 'ttbar'"}], "mark": {"type": "rect", "stroke": "#c80000", "strokeWidth": 0.5},
          "encoding": {
           "x": {"field": "lo", "type": "quantitative", "scale": {"domain": [0,800], "nice": false, "zero": false}, "axis": {"orient": "bottom", "values": [0,100,200,300,400,500,600,700,800], "tickCount": 1000, "labels": false, "title": null}},
           "x2": {"field": "hi"},
           "y": {"field": "s1", "type": "quantitative", "scale": {"domain": [0,11.1], "nice": false, "zero": false}, "axis": {"orient": "left", "values": [0,5,10], "tickCount": 1000, "format": "d", "title": "Events / 20 GeV", "titleAnchor": "end"}},
           "y2": {"field": "s0"},
           "fill": {"datum": "tt̄", "type": "nominal", "scale": {"domain": ["tt̄","Other"], "range": ["#c80000","#14c864"]}, "legend": {"title": null, "orient": "none", "legendX": 221, "legendY": 5.5, "symbolType": "M-1,-0.55H1V0.55H-1Z", "symbolSize": 169, "symbolStrokeWidth": 0, "rowPadding": -1, "labelOffset": 4}}
          }},
         {"transform": [{"filter": "datum.proc === 'other'"}], "mark": {"type": "rect", "stroke": "#14c864", "strokeWidth": 0.5},
          "encoding": {"x": {"field": "lo", "type": "quantitative"}, "x2": {"field": "hi"}, "y": {"field": "s1", "type": "quantitative"}, "y2": {"field": "s0"}, "fill": {"datum": "Other", "type": "nominal"}}},
         {"transform": [{"filter": "datum.proc === 'tW'"}], "mark": {"type": "rect", "stroke": "#fd9a30", "strokeWidth": 0.5},
          "encoding": {"x": {"field": "lo", "type": "quantitative"}, "x2": {"field": "hi"}, "y": {"field": "s1", "type": "quantitative"}, "y2": {"field": "s0"},
           "color": {"datum": "tW", "type": "nominal", "scale": {"domain": ["tW","Total unc."], "range": ["#fd9a30","#b4b4b4"]}, "legend": {"title": null, "orient": "none", "legendX": 100, "legendY": 17.5, "symbolType": "M-1,-0.55H1V0.55H-1Z", "symbolSize": 169, "symbolStrokeWidth": 0, "rowPadding": -1, "labelOffset": 3}}}}
        ]
       },
       {"mark": {"type": "rect", "opacity": 0.45},
        "encoding": {"x": {"field": "lo", "type": "quantitative", "axis": null}, "x2": {"field": "hi"}, "y": {"field": "unc_lo", "type": "quantitative", "axis": null}, "y2": {"field": "unc_hi"}, "color": {"datum": "Total unc.", "type": "nominal"}}},
       {"data": {"name": "ht_sig"}, "mark": {"type": "line", "interpolate": "step-after", "strokeWidth": 1.6},
        "encoding": {"x": {"field": "x", "type": "quantitative", "axis": null}, "y": {"field": "v", "type": "quantitative", "axis": null},
         "stroke": {"datum": "t̃ → tχ̃⁰₁ (mₜ̃₁ = 225 GeV, mᵪ̃₁ = 50 GeV)", "type": "nominal", "scale": {"range": ["#3c8cf0"]}, "legend": {"title": null, "orient": "none", "legendX": 100, "legendY": 41.5, "symbolType": "stroke", "symbolSize": 169, "symbolStrokeWidth": 1.6, "labelOffset": 3, "labelFontSize": 10}}}},
       {"mark": {"type": "point", "filled": true, "size": 26, "color": "black", "opacity": 1},
        "encoding": {"x": {"field": "c", "type": "quantitative", "axis": null}, "y": {"field": "data", "type": "quantitative", "axis": null},
         "shape": {"datum": "Data", "type": "nominal", "scale": {"domain": ["Data"], "range": ["circle"]}, "legend": {"title": null, "orient": "none", "legendX": 103, "legendY": 7, "symbolFillColor": "black", "symbolStrokeColor": "black", "symbolSize": 26, "labelOffset": 8}}}},
       {"mark": {"type": "text", "text": "CMS", "fontSize": 15, "fontWeight": "bold", "align": "left", "baseline": "alphabetic"},
        "encoding": {"x": {"datum": 29, "type": "quantitative", "axis": {"orient": "bottom", "values": [0,20,40,60,80,100,120,140,160,180,200,220,240,260,280,300,320,340,360,380,400,420,440,460,480,500,520,540,560,580,600,620,640,660,680,700,720,740,760,780,800], "tickCount": 1000, "labels": false, "title": null, "domain": false, "tickSize": -3}},
                     "y": {"datum": 9.56, "type": "quantitative", "axis": {"orient": "left", "values": [0,1,2,3,4,5,6,7,8,9,10,11], "tickCount": 1000, "labels": false, "title": null, "domain": false, "tickSize": -3}}}},
       {"mark": {"type": "text", "text": "×10³", "fontSize": 9, "align": "left", "baseline": "bottom", "dy": -1},
        "encoding": {"x": {"datum": 0, "type": "quantitative", "axis": {"orient": "top", "values": [0,20,40,60,80,100,120,140,160,180,200,220,240,260,280,300,320,340,360,380,400,420,440,460,480,500,520,540,560,580,600,620,640,660,680,700,720,740,760,780,800], "tickCount": 1000, "labels": false, "title": null, "domain": false, "tickSize": -3}},
                     "y": {"datum": 11.1, "type": "quantitative", "axis": {"orient": "right", "values": [0,1,2,3,4,5,6,7,8,9,10,11], "tickCount": 1000, "labels": false, "title": null, "domain": false, "tickSize": -3}}}}
      ]
     },
     {
      "width": 295, "height": 159,
      "title": {"text": "137 fb⁻¹ (13 TeV)"},
      "data": {"name": "met"},
      "resolve": {"axis": {"x": "independent", "y": "independent"}},
      "layer": [
       {
        "transform": [{"filter": "datum.ttbar != null"}, {"fold": ["other","tW","ttbar"], "as": ["proc","n"]}, {"stack": "n", "groupby": ["lo"], "sort": [{"field": "proc", "order": "ascending"}], "as": ["s0","s1"]}],
        "layer": [
         {"transform": [{"filter": "datum.proc === 'ttbar'"}], "mark": {"type": "rect", "stroke": "#c80000", "strokeWidth": 0.5},
          "encoding": {
           "x": {"field": "lo", "type": "quantitative", "scale": {"domain": [50,300], "nice": false, "zero": false}, "axis": {"orient": "bottom", "values": [50,100,150,200,250,300], "tickCount": 1000, "labels": false, "title": null}},
           "x2": {"field": "hi"},
           "y": {"field": "s1", "type": "quantitative", "scale": {"domain": [0,13], "nice": false, "zero": false}, "axis": {"orient": "left", "values": [0,5,10], "tickCount": 1000, "format": "d", "title": "Events / 10 GeV", "titleAnchor": "end"}},
           "y2": {"field": "s0"},
           "fill": {"datum": "tt̄", "type": "nominal", "scale": {"domain": ["tt̄","Other"], "range": ["#c80000","#14c864"]}, "legend": {"title": null, "orient": "none", "legendX": 221, "legendY": 5.5, "symbolType": "M-1,-0.55H1V0.55H-1Z", "symbolSize": 169, "symbolStrokeWidth": 0, "rowPadding": -1, "labelOffset": 4}}
          }},
         {"transform": [{"filter": "datum.proc === 'other'"}], "mark": {"type": "rect", "stroke": "#14c864", "strokeWidth": 0.5},
          "encoding": {"x": {"field": "lo", "type": "quantitative"}, "x2": {"field": "hi"}, "y": {"field": "s1", "type": "quantitative"}, "y2": {"field": "s0"}, "fill": {"datum": "Other", "type": "nominal"}}},
         {"transform": [{"filter": "datum.proc === 'tW'"}], "mark": {"type": "rect", "stroke": "#fd9a30", "strokeWidth": 0.5},
          "encoding": {"x": {"field": "lo", "type": "quantitative"}, "x2": {"field": "hi"}, "y": {"field": "s1", "type": "quantitative"}, "y2": {"field": "s0"},
           "color": {"datum": "tW", "type": "nominal", "scale": {"domain": ["tW","Total unc."], "range": ["#fd9a30","#b4b4b4"]}, "legend": {"title": null, "orient": "none", "legendX": 100, "legendY": 17.5, "symbolType": "M-1,-0.55H1V0.55H-1Z", "symbolSize": 169, "symbolStrokeWidth": 0, "rowPadding": -1, "labelOffset": 3}}}}
        ]
       },
       {"mark": {"type": "rect", "opacity": 0.45},
        "encoding": {"x": {"field": "lo", "type": "quantitative", "axis": null}, "x2": {"field": "hi"}, "y": {"field": "unc_lo", "type": "quantitative", "axis": null}, "y2": {"field": "unc_hi"}, "color": {"datum": "Total unc.", "type": "nominal"}}},
       {"data": {"name": "met_sig"}, "mark": {"type": "line", "interpolate": "step-after", "strokeWidth": 1.6},
        "encoding": {"x": {"field": "x", "type": "quantitative", "axis": null}, "y": {"field": "v", "type": "quantitative", "axis": null},
         "stroke": {"datum": "t̃ → tχ̃⁰₁ (mₜ̃₁ = 225 GeV, mᵪ̃₁ = 50 GeV)", "type": "nominal", "scale": {"range": ["#3c8cf0"]}, "legend": {"title": null, "orient": "none", "legendX": 100, "legendY": 41.5, "symbolType": "stroke", "symbolSize": 169, "symbolStrokeWidth": 1.6, "labelOffset": 3, "labelFontSize": 10}}}},
       {"mark": {"type": "point", "filled": true, "size": 26, "color": "black", "opacity": 1},
        "encoding": {"x": {"field": "c", "type": "quantitative", "axis": null}, "y": {"field": "data", "type": "quantitative", "axis": null},
         "shape": {"datum": "Data", "type": "nominal", "scale": {"domain": ["Data"], "range": ["circle"]}, "legend": {"title": null, "orient": "none", "legendX": 103, "legendY": 7, "symbolFillColor": "black", "symbolStrokeColor": "black", "symbolSize": 26, "labelOffset": 8}}}},
       {"mark": {"type": "text", "text": "CMS", "fontSize": 15, "fontWeight": "bold", "align": "left", "baseline": "alphabetic"},
        "encoding": {"x": {"datum": 59.1, "type": "quantitative", "axis": {"orient": "bottom", "values": [50,60,70,80,90,100,110,120,130,140,150,160,170,180,190,200,210,220,230,240,250,260,270,280,290,300], "tickCount": 1000, "labels": false, "title": null, "domain": false, "tickSize": -3}},
                     "y": {"datum": 11.2, "type": "quantitative", "axis": {"orient": "left", "values": [0,1,2,3,4,5,6,7,8,9,10,11,12,13], "tickCount": 1000, "labels": false, "title": null, "domain": false, "tickSize": -3}}}},
       {"mark": {"type": "text", "text": "×10³", "fontSize": 9, "align": "left", "baseline": "bottom", "dy": -1},
        "encoding": {"x": {"datum": 50, "type": "quantitative", "axis": {"orient": "top", "values": [50,60,70,80,90,100,110,120,130,140,150,160,170,180,190,200,210,220,230,240,250,260,270,280,290,300], "tickCount": 1000, "labels": false, "title": null, "domain": false, "tickSize": -3}},
                     "y": {"datum": 13, "type": "quantitative", "axis": {"orient": "right", "values": [0,1,2,3,4,5,6,7,8,9,10,11,12,13], "tickCount": 1000, "labels": false, "title": null, "domain": false, "tickSize": -3}}}}
      ]
     },
     {
      "width": 295, "height": 38,
      "data": {"name": "ht"},
      "transform": [{"filter": "datum.ratio != null"}],
      "resolve": {"axis": {"x": "independent", "y": "independent"}},
      "layer": [
       {"mark": {"type": "rect", "fill": "#b4b4b4", "opacity": 0.45},
        "encoding": {"x": {"field": "lo", "type": "quantitative", "scale": {"domain": [0,800], "nice": false, "zero": false}, "axis": {"orient": "bottom", "values": [0,100,200,300,400,500,600,700,800], "tickCount": 1000, "format": "d", "title": "Hₜ (GeV)"}},
         "x2": {"field": "hi"},
         "y": {"field": "band_lo", "type": "quantitative", "scale": {"domain": [0.5,1.5], "nice": false, "zero": false}, "axis": {"orient": "left", "values": [0.6,0.8,1,1.2,1.4], "tickCount": 1000, "format": "~g", "title": "Data/Pred.", "labelFontSize": 7.5, "tickSize": -4, "labelPadding": 6}},
         "y2": {"field": "band_hi"}}},
       {"mark": {"type": "rule", "strokeDash": [3,3], "color": "#444444", "strokeWidth": 0.8}, "encoding": {"y": {"datum": 1, "type": "quantitative", "axis": {"orient": "right", "values": [0.5,0.6,0.7,0.8,0.9,1,1.1,1.2,1.3,1.4,1.5], "tickCount": 1000, "labels": false, "title": null, "domain": false, "tickSize": -3}}}},
       {"transform": [{"filter": "datum.ratio_err != null"}], "mark": {"type": "errorbar", "ticks": false, "color": "black", "thickness": 1.2}, "encoding": {"x": {"field": "c", "type": "quantitative", "axis": null}, "y": {"field": "ratio", "type": "quantitative", "axis": null}, "yError": {"field": "ratio_err"}}},
       {"mark": {"type": "circle", "size": 24, "color": "black", "opacity": 1},
        "encoding": {"x": {"field": "c", "type": "quantitative", "axis": {"orient": "bottom", "values": [0,20,40,60,80,100,120,140,160,180,200,220,240,260,280,300,320,340,360,380,400,420,440,460,480,500,520,540,560,580,600,620,640,660,680,700,720,740,760,780,800], "tickCount": 1000, "labels": false, "title": null, "domain": false, "tickSize": -3}},
                     "y": {"field": "ratio", "type": "quantitative", "axis": {"orient": "left", "values": [0.5,0.6,0.7,0.8,0.9,1,1.1,1.2,1.3,1.4,1.5], "tickCount": 1000, "labels": false, "title": null, "domain": false, "tickSize": -2}}}},
       {"mark": {"type": "text", "text": ""},
        "encoding": {"x": {"datum": 0, "type": "quantitative", "axis": {"orient": "top", "values": [0,20,40,60,80,100,120,140,160,180,200,220,240,260,280,300,320,340,360,380,400,420,440,460,480,500,520,540,560,580,600,620,640,660,680,700,720,740,760,780,800], "tickCount": 1000, "labels": false, "title": null, "domain": false, "tickSize": -3}}, "y": {"datum": 1, "type": "quantitative", "axis": null}}}
      ]
     },
     {
      "width": 295, "height": 38,
      "data": {"name": "met"},
      "transform": [{"filter": "datum.ratio != null"}],
      "resolve": {"axis": {"x": "independent", "y": "independent"}},
      "layer": [
       {"mark": {"type": "rect", "fill": "#b4b4b4", "opacity": 0.45},
        "encoding": {"x": {"field": "lo", "type": "quantitative", "scale": {"domain": [50,300], "nice": false, "zero": false}, "axis": {"orient": "bottom", "values": [50,100,150,200,250,300], "tickCount": 1000, "format": "d", "title": "pₜᵐⁱˢˢ (GeV)"}},
         "x2": {"field": "hi"},
         "y": {"field": "band_lo", "type": "quantitative", "scale": {"domain": [0.5,1.5], "nice": false, "zero": false}, "axis": {"orient": "left", "values": [0.6,0.8,1,1.2,1.4], "tickCount": 1000, "format": "~g", "title": "Data/Pred.", "labelFontSize": 7.5, "tickSize": -4, "labelPadding": 6}},
         "y2": {"field": "band_hi"}}},
       {"mark": {"type": "rule", "strokeDash": [3,3], "color": "#444444", "strokeWidth": 0.8}, "encoding": {"y": {"datum": 1, "type": "quantitative", "axis": {"orient": "right", "values": [0.5,0.6,0.7,0.8,0.9,1,1.1,1.2,1.3,1.4,1.5], "tickCount": 1000, "labels": false, "title": null, "domain": false, "tickSize": -3}}}},
       {"transform": [{"filter": "datum.ratio_err != null"}], "mark": {"type": "errorbar", "ticks": false, "color": "black", "thickness": 1.2}, "encoding": {"x": {"field": "c", "type": "quantitative", "axis": null}, "y": {"field": "ratio", "type": "quantitative", "axis": null}, "yError": {"field": "ratio_err"}}},
       {"mark": {"type": "circle", "size": 24, "color": "black", "opacity": 1},
        "encoding": {"x": {"field": "c", "type": "quantitative", "axis": {"orient": "bottom", "values": [50,60,70,80,90,100,110,120,130,140,150,160,170,180,190,200,210,220,230,240,250,260,270,280,290,300], "tickCount": 1000, "labels": false, "title": null, "domain": false, "tickSize": -3}},
                     "y": {"field": "ratio", "type": "quantitative", "axis": {"orient": "left", "values": [0.5,0.6,0.7,0.8,0.9,1,1.1,1.2,1.3,1.4,1.5], "tickCount": 1000, "labels": false, "title": null, "domain": false, "tickSize": -2}}}},
       {"mark": {"type": "text", "text": ""},
        "encoding": {"x": {"datum": 50, "type": "quantitative", "axis": {"orient": "top", "values": [50,60,70,80,90,100,110,120,130,140,150,160,170,180,190,200,210,220,230,240,250,260,270,280,290,300], "tickCount": 1000, "labels": false, "title": null, "domain": false, "tickSize": -3}}, "y": {"datum": 1, "type": "quantitative", "axis": null}}}
      ]
     }
]
}
